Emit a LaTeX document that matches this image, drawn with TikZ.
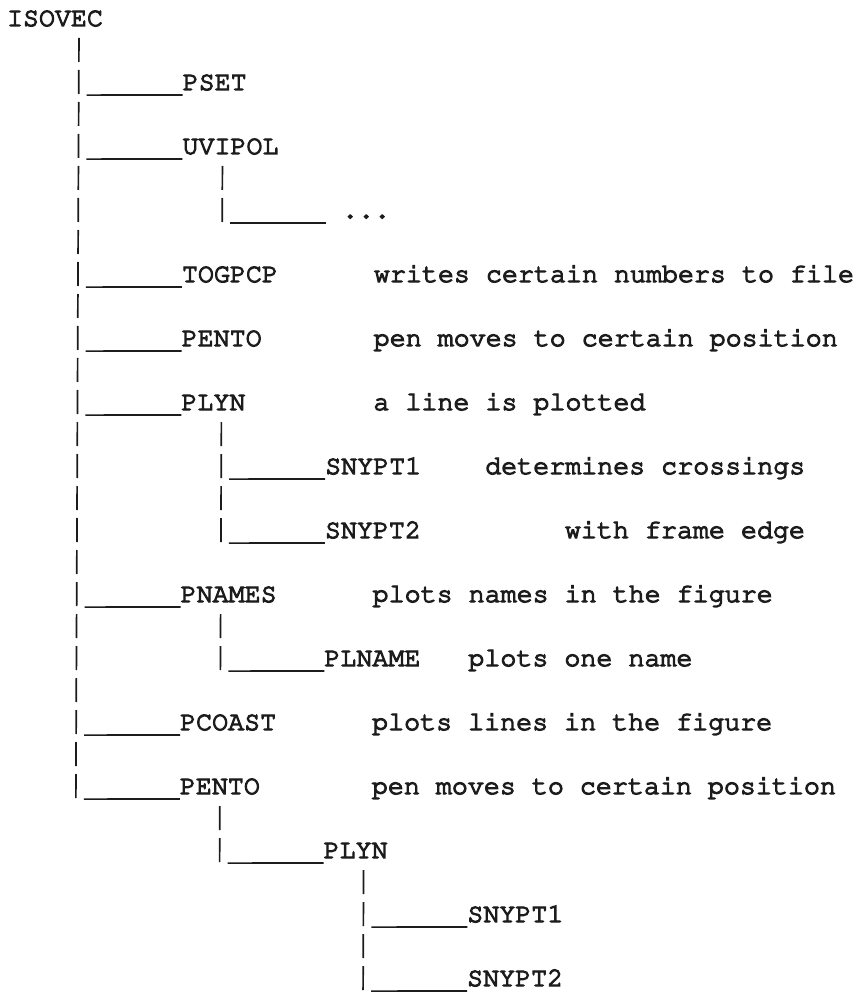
\documentclass[tikz,border=0pt]{standalone}
\usepackage[T1]{fontenc}
\usepackage{courier}
\definecolor{ink}{HTML}{1C1C1C}
\tikzset{
  lbl/.style={anchor=base west, inner sep=0pt, outer sep=0pt,
    font=\fontsize{26.67pt}{32pt}\selectfont\ttfamily, text=ink,
    execute at begin node={\special{pdf:literal direct 2 Tr 1.2 w}}},
  bar/.style={draw=ink, line width=1.7pt, dash pattern=on 24pt off 8pt},
  under/.style={draw=ink, line width=1.7pt}
}
\begin{document}
\begin{tikzpicture}
\useasboundingbox[fill=white] (0pt,0pt) rectangle (859pt,-992pt);
\begin{scope}[shift={(7pt,-26pt)}, x={(16pt,0pt)}, y={(-0.13pt,-32pt)}]
% nodes
\node[lbl] (isovec) at (0,0) {ISOVEC};
\node[lbl] (pset) at (11,2) {PSET};
\node[lbl] (uvipol) at (11,4) {UVIPOL};
\node[lbl] (dots) at (21,6) {...};
\node[lbl] (togpcp) at (11,8) {TOGPCP};
\node[lbl] (dtogpcp) at (23,8) {writes certain numbers to file};
\node[lbl] (pentoa) at (11,10) {PENTO};
\node[lbl] (dpentoa) at (23,10) {pen moves to certain position};
\node[lbl] (plyna) at (11,12) {PLYN};
\node[lbl] (dplyna) at (23,12) {a line is plotted};
\node[lbl] (snyaa) at (20,14) {SNYPT1};
\node[lbl] (dsnyaa) at (30,14) {determines crossings};
\node[lbl] (snyba) at (20,16) {SNYPT2};
\node[lbl] (dsnyba) at (35,16) {with frame edge};
\node[lbl] (pnames) at (11,18) {PNAMES};
\node[lbl] (dpnames) at (23,18) {plots names in the figure};
\node[lbl] (plname) at (20,20) {PLNAME};
\node[lbl] (dplname) at (29,20) {plots one name};
\node[lbl] (pcoast) at (11,22) {PCOAST};
\node[lbl] (dpcoast) at (23,22) {plots lines in the figure};
\node[lbl] (pentob) at (11,24) {PENTO};
\node[lbl] (dpentob) at (23,24) {pen moves to certain position};
\node[lbl] (plynb) at (20,26) {PLYN};
\node[lbl] (snyab) at (29,28) {SNYPT1};
\node[lbl] (snybb) at (29,30) {SNYPT2};
% vertical bars
\coordinate (mt) at (4.5,0.375);   \coordinate (mb) at (4.5,24.125);
\coordinate (ut) at (13.5,4.375);  \coordinate (ub) at (13.5,6.125);
\coordinate (pat) at (13.5,12.375); \coordinate (pab) at (13.5,16.125);
\coordinate (nt) at (13.5,18.375); \coordinate (nb) at (13.5,20.125);
\coordinate (et) at (13.5,24.375); \coordinate (eb) at (13.5,26.125);
\coordinate (pbt) at (22.5,26.375); \coordinate (pbb) at (22.5,30.125);
\draw[bar] (mt) -- (mb);
\draw[bar] (ut) -- (ub);
\draw[bar] (pat) -- (pab);
\draw[bar] (nt) -- (nb);
\draw[bar] (et) -- (eb);
\draw[bar] (pbt) -- (pbb);
% horizontal branches
\draw[under] (5,2.16) -- ([yshift=-5pt]pset.base west);
\draw[under] (5,4.16) -- ([yshift=-5pt]uvipol.base west);
\draw[under] (14,6.16) -- (20,6.16);
\draw[under] (5,8.16) -- ([yshift=-5pt]togpcp.base west);
\draw[under] (5,10.16) -- ([yshift=-5pt]pentoa.base west);
\draw[under] (5,12.16) -- ([yshift=-5pt]plyna.base west);
\draw[under] (14,14.16) -- ([yshift=-5pt]snyaa.base west);
\draw[under] (14,16.16) -- ([yshift=-5pt]snyba.base west);
\draw[under] (5,18.16) -- ([yshift=-5pt]pnames.base west);
\draw[under] (14,20.16) -- ([yshift=-5pt]plname.base west);
\draw[under] (5,22.16) -- ([yshift=-5pt]pcoast.base west);
\draw[under] (5,24.16) -- ([yshift=-5pt]pentob.base west);
\draw[under] (14,26.16) -- ([yshift=-5pt]plynb.base west);
\draw[under] (23,28.16) -- ([yshift=-5pt]snyab.base west);
\draw[under] (23,30.16) -- ([yshift=-5pt]snybb.base west);
\end{scope}
\end{tikzpicture}
\end{document}
